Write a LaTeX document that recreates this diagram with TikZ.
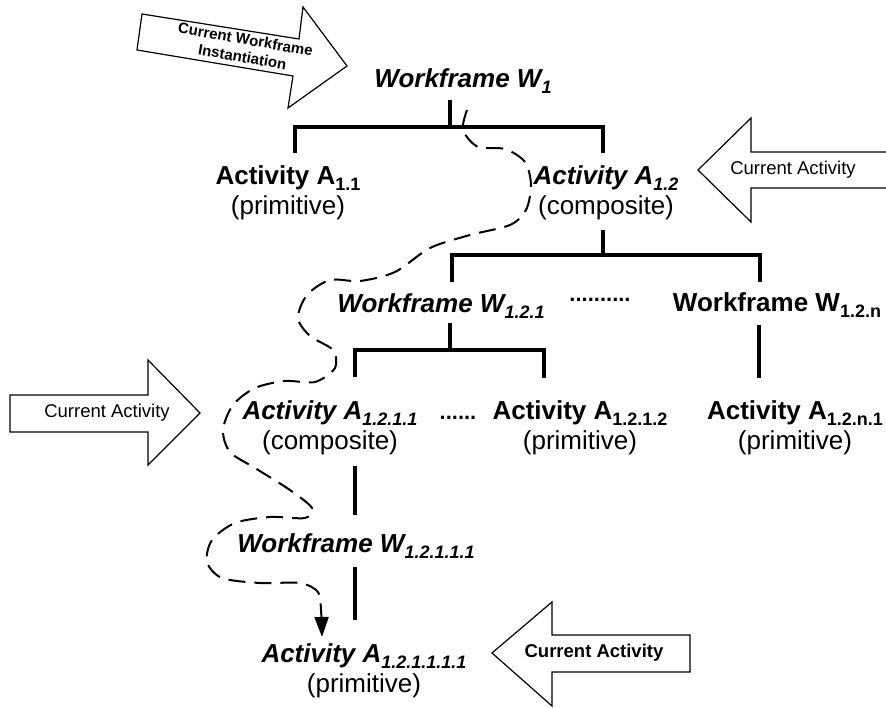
\documentclass[tikz,border=0pt]{standalone}
\usepackage{fontspec}
\setmainfont{Liberation Sans}
\usetikzlibrary{arrows.meta}
\newcommand\idx[1]{\raisebox{-6pt}{\fontsize{18}{18}\selectfont #1}}
\newcommand\plainline{\mdseries\upshape\fontsize{26}{30}\selectfont}
\begin{document}
\begin{tikzpicture}[x=1pt,y=-1pt,
  lbl/.style={font=\bfseries\fontsize{26}{30}\selectfont, inner sep=0pt, align=center},
  lbli/.style={font=\bfseries\itshape\fontsize{26}{30}\selectfont, inner sep=0pt, align=center},
  dotsrow/.style={font=\bfseries\fontsize{22}{22}\selectfont, inner sep=0pt},
  tree/.style={line width=3.5pt},
  blockarrow/.style={draw, line width=1.2pt, fill=white, line join=miter},
  arrowtext/.style={font=\fontsize{18.5}{22}\selectfont, inner sep=0pt},
  flow/.style={line width=2pt, dash pattern=on 17pt off 9pt, -{Triangle[length=20pt,width=14pt]}}
]
\useasboundingbox (0,0) rectangle (886,708);

% block arrows
\draw[blockarrow] (142,14) -- (299,39) -- (303,7) -- (347,66) -- (288,108) -- (293,76) -- (137,50) -- cycle;
\node[font=\bfseries\fontsize{15}{18}\selectfont, align=center, rotate=-10, inner sep=0pt] (cwi) at (244,48) {Current Workframe\\Instantiation};

\draw[blockarrow] (890,152) -- (751,152) -- (751,118) -- (698,170) -- (751,222) -- (751,188) -- (890,188);
\node[arrowtext] (ca1) at (793,170) {Current Activity};

\draw[blockarrow] (10,395) -- (148,395) -- (148,360) -- (200,413) -- (148,465) -- (148,432) -- (10,432) -- cycle;
\node[arrowtext] (ca2) at (107,413) {Current Activity};

\draw[blockarrow] (492,653) -- (552,602) -- (552,635) -- (690,635) -- (690,672) -- (552,672) -- (552,706) -- cycle;
\node[arrowtext, font=\bfseries\fontsize{18.5}{22}\selectfont] (ca3) at (594,653) {Current Activity};

% nodes
\node[lbli, anchor=base] (w1) at (463,88) {Workframe W\idx{1}};
\node[lbl] (a11) at (288,193) {Activity A\idx{1.1}\\\plainline (primitive)};
\node[lbli] (a12) at (606,193) {Activity A\idx{1.2}\\\plainline (composite)};
\node[lbli, anchor=base] (w121) at (441,313) {Workframe W\idx{1.2.1}};
\node[dotsrow, anchor=base] (dots1) at (600,302) {..........};
\node[lbl, anchor=base] (w12n) at (777,312) {Workframe W\idx{1.2.n}};
\node[lbli] (a1211) at (330,428) {Activity A\idx{1.2.1.1}\\\plainline (composite)};
\node[dotsrow, anchor=base] (dots2) at (458,419) {......};
\node[lbl] (a1212) at (580,428) {Activity A\idx{1.2.1.2}\\\plainline (primitive)};
\node[lbl] (a12n1) at (795,428) {Activity A\idx{1.2.n.1}\\\plainline (primitive)};
\node[lbli, anchor=base] (w12111) at (356,552) {Workframe W\idx{1.2.1.1.1}};
\node[lbli] (a121111) at (364,671) {Activity A\idx{1.2.1.1.1.1}\\\plainline (primitive)};

% tree connectors
\draw[tree] (450,100) -- (450,127);
\draw[tree] (295,153) -- (295,127) -- (603,127) -- (603,153);
\draw[tree] (603,230) -- (603,255);
\draw[tree] (452,282) -- (452,255) -- (760,255) -- (760,282);
\draw[tree] (450,323) -- (450,350);
\draw[tree] (355,377) -- (355,350) -- (544,350) -- (544,378);
\draw[tree] (759,325) -- (759,378);
\draw[tree] (355,466) -- (355,515);
\draw[tree] (355,567) -- (355,620);

% dashed flow
\coordinate (dstart) at (467,110);
\coordinate (dend) at (322,637);
\draw[flow] plot[smooth, tension=0.5] coordinates {(dstart) (463,130) (478,147) (505,149) (525,162) (531,185) (526,210) (510,225) (470,235) (430,248) (395,272) (360,281) (330,280) (307,295) (298,318) (310,336) (333,350) (335,368) (315,382) (285,381) (255,388) (233,405) (223,430) (230,452) (255,468) (290,490) (312,508) (305,518) (270,517) (235,523) (212,540) (207,562) (222,578) (260,583) (300,583) (318,592) (321,610) (dend)};
\end{tikzpicture}
\end{document}
